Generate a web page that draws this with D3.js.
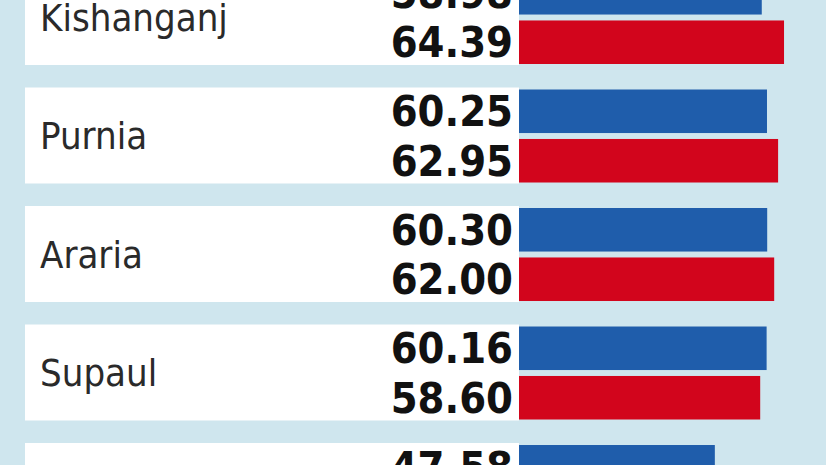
<!DOCTYPE html>
<html><head><meta charset="utf-8">
<script src="https://cdn.jsdelivr.net/npm/d3@7"></script>
<style>body{margin:0;background:#cfe6ee}</style></head>
<body><svg id="c" width="826" height="465"></svg>
<script>
const categories = ["Kishanganj","Purnia","Araria","Supaul","Katihar"];
const blueValues = [58.98, 60.25, 60.30, 60.16, 47.58];
const redValues  = [64.39, 62.95, 62.00, 58.60, 50.00];

const svg = d3.select("#c");
svg.append("rect").attr("width",826).attr("height",465).attr("fill","#cfe6ee");
const y = d3.scaleBand().domain(categories).range([-31, 539]).paddingInner(0.19).paddingOuter(0);
const x = d3.scaleLinear().domain([0,100]).range([519, 930.6]);
const inner = d3.scaleBand().domain(["b","r"]).range([2, 95]).paddingInner(0.12);

const g = svg.selectAll("g.row").data(categories).join("g").attr("transform", d=>`translate(0,${y(d)})`);
g.append("rect").attr("x",25).attr("width",494).attr("height",y.bandwidth()).attr("fill","#fff");
g.append("text").attr("x",40).attr("y",y.bandwidth()/2+14).text(d=>d)
 .attr("font-family","DejaVu Sans Condensed, DejaVu Sans, sans-serif").attr("font-size",38).attr("fill","#2a2a2a");
const series = [["b",blueValues,"#1f5dab"],["r",redValues,"#d2051c"]];
series.forEach(([k,vals,col])=>{
  g.append("rect").attr("x",x(0)).attr("y",inner(k)).attr("height",inner.bandwidth())
   .attr("width",(d,i)=>x(vals[i])-x(0)).attr("fill",col);
  g.append("text").attr("x",513).attr("y",inner(k)+inner.bandwidth()/2+15).attr("text-anchor","end")
   .text((d,i)=>vals[i].toFixed(2)).attr("font-family","DejaVu Sans Condensed, DejaVu Sans, sans-serif").attr("font-weight","bold")
   .attr("font-size",43).attr("fill","#111");
});
</script></body></html>
